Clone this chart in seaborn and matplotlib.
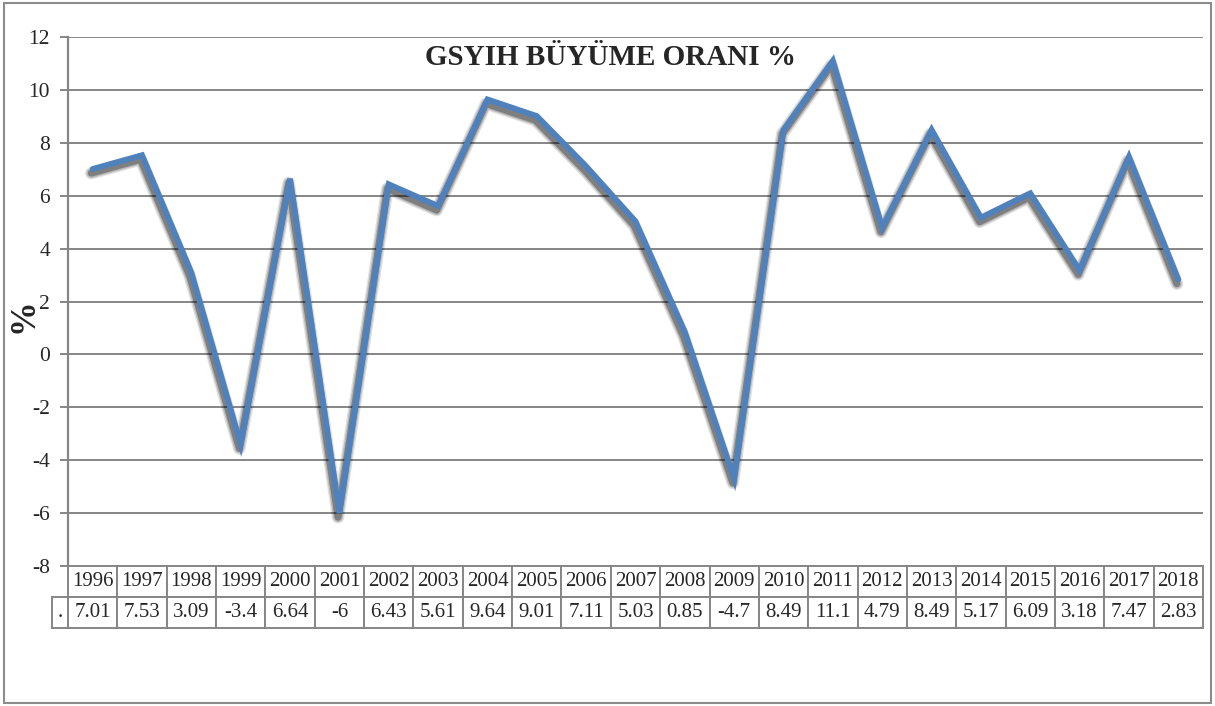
import numpy as np
import matplotlib
matplotlib.use("Agg")
import matplotlib.pyplot as plt
import matplotlib.patheffects as pe
from matplotlib.patches import Rectangle
import seaborn as sns

# Data
years = ["1996", "1997", "1998", "1999", "2000", "2001", "2002", "2003",
         "2004", "2005", "2006", "2007", "2008", "2009", "2010", "2011",
         "2012", "2013", "2014", "2015", "2016", "2017", "2018"]
growth = [7.01, 7.53, 3.09, -3.4, 6.64, -6, 6.43, 5.61, 9.64, 9.01, 7.11,
          5.03, 0.85, -4.7, 8.49, 11.1, 4.79, 8.49, 5.17, 6.09, 3.18, 7.47, 2.83]
y_ticks = [-8, -6, -4, -2, 0, 2, 4, 6, 8, 10, 12]

sns.set_style("white")
plt.rcParams["font.family"] = ["Liberation Serif", "DejaVu Serif"]

W, H = 1215, 706
fig = plt.figure(figsize=(W / 100, H / 100), dpi=100)

# axes box in pixels
left, right, top, bottom = 68, 1203, 37, 566
axw = right - left
axh = bottom - top
ax = fig.add_axes([left / W, 1 - bottom / H, axw / W, axh / H])

grid_color = "#868686"

sns.lineplot(x=years, y=growth, sort=False, color="#4F81BD",
             linewidth=4.2, ax=ax)
# soft drop shadow (a few widening translucent layers)
ax.lines[0].set_path_effects([
    pe.SimpleLineShadow(offset=(-1, -3), shadow_color="black", alpha=0.12,
                        linewidth=9, joinstyle="round"),
    pe.SimpleLineShadow(offset=(-1, -3), shadow_color="black", alpha=0.18,
                        linewidth=7, joinstyle="round"),
    pe.SimpleLineShadow(offset=(-1, -3), shadow_color="black", alpha=0.3,
                        linewidth=5, joinstyle="round"),
    pe.Normal(),
])
ax.lines[0].set_solid_joinstyle("miter")

ax.set_xlim(-0.5, len(years) - 0.5)
ax.set_ylim(-8, 12)
ax.set_yticks(y_ticks)
ax.set_yticklabels([str(t) for t in y_ticks], fontsize=15.5)
ax.set_xticks([])
ax.set_xlabel("")
ax.set_ylabel("%", fontsize=25, fontweight="bold")
ax.yaxis.set_label_coords(-(left - 41) / axw, 1 - (316 - top) / axh)

ax.yaxis.grid(True, color=grid_color, linewidth=1.4)
ax.set_axisbelow(True)
for s in ["top", "right", "bottom"]:
    ax.spines[s].set_visible(False)
ax.spines["left"].set_color(grid_color)
ax.spines["left"].set_linewidth(1.6)
ax.tick_params(axis="y", direction="out", length=6, width=1.4,
               color=grid_color, pad=7, left=True)

ax.text(0.478, 1 - (57 - top) / axh, "GSYIH BÜYÜME ORANI %", transform=ax.transAxes,
        ha="center", va="center", fontsize=21, fontweight="bold")

# data table below the plot
label_w = 16
col_w = 1 / len(years)
tbl = ax.table(
    cellText=[[f"{v:g}" for v in growth]],
    colLabels=years,
    colWidths=[col_w] * len(years),
    cellLoc="center",
    bbox=[0, -62 / axh, 1, 62 / axh],
)
row_h = tbl[(1, 0)].get_height()
tbl.add_cell(1, -1, width=label_w / axw, height=row_h, text=".", loc="center")
tbl.auto_set_font_size(False)
for (r, c), cell in tbl.get_celld().items():
    cell.set_edgecolor(grid_color)
    cell.set_linewidth(1.4)
    cell.get_text().set_fontsize(15)
    cell.PAD = 0.02

# outer chart border
fig.patches.append(Rectangle((4 / W, 3 / H), 1207 / W, 700 / H,
                             transform=fig.transFigure, fill=False,
                             edgecolor="#8c8c8c", linewidth=1.5))

plt.savefig("out.png", dpi=100)
plt.close()
